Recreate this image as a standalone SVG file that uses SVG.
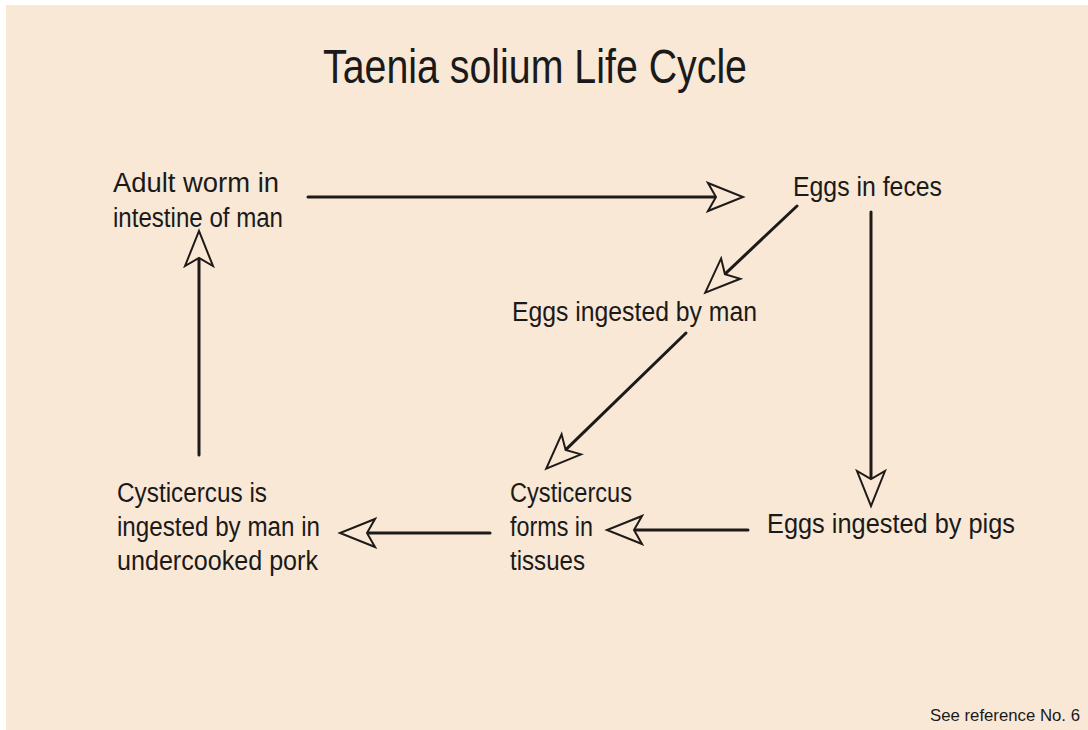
<svg xmlns="http://www.w3.org/2000/svg" width="1088" height="730" viewBox="0 0 1088 730">
<style>
.t{font-family:"Liberation Sans",Arial,sans-serif;fill:#1a1a1a}
.n{font-size:27px}
.c{fill:none;stroke:#1e1a18;stroke-width:3;stroke-linecap:round}
</style>
<defs>
<marker id="ah" viewBox="0 0 40 34" refX="10" refY="17" markerWidth="40" markerHeight="34" markerUnits="userSpaceOnUse" orient="auto">
<path d="M2,3 L37,17 L2,31 L10,17 Z" fill="#f9e8d5" stroke="#1e1a18" stroke-width="2" stroke-linejoin="miter"/>
</marker>
</defs>
<rect x="0" y="0" width="1088" height="730" fill="#ffffff"/>
<rect x="6" y="5" width="1082" height="725" fill="#f9e8d5"/>
<text class="t" x="323" y="83" font-size="48" textLength="424" lengthAdjust="spacingAndGlyphs">Taenia solium Life Cycle</text>
<g id="connectors">
<line class="c" x1="308" y1="197" x2="716" y2="197" marker-end="url(#ah)"/>
<line class="c" x1="797" y1="206" x2="724.9" y2="274.1" marker-end="url(#ah)"/>
<line class="c" x1="686" y1="333" x2="565.6" y2="449.9" marker-end="url(#ah)"/>
<line class="c" x1="871" y1="212" x2="871" y2="479" marker-end="url(#ah)"/>
<line class="c" x1="748" y1="530" x2="634" y2="530" marker-end="url(#ah)"/>
<line class="c" x1="490" y1="533" x2="367" y2="533" marker-end="url(#ah)"/>
<line class="c" x1="199" y1="455" x2="199" y2="258" marker-end="url(#ah)"/>
</g>
<g id="adult">
<text class="t n" x="113" y="192" textLength="166" lengthAdjust="spacingAndGlyphs">Adult worm in</text>
<text class="t n" x="113" y="227" textLength="170" lengthAdjust="spacingAndGlyphs">intestine of man</text>
</g>
<g id="eggs-feces">
<text class="t n" x="793" y="196" textLength="149" lengthAdjust="spacingAndGlyphs">Eggs in feces</text>
</g>
<g id="eggs-man">
<text class="t n" x="512" y="321" textLength="245" lengthAdjust="spacingAndGlyphs">Eggs ingested by man</text>
</g>
<g id="cyst-man">
<text class="t n" x="117" y="502" textLength="150" lengthAdjust="spacingAndGlyphs">Cysticercus is</text>
<text class="t n" x="117" y="536" textLength="203" lengthAdjust="spacingAndGlyphs">ingested by man in</text>
<text class="t n" x="117" y="570" textLength="201" lengthAdjust="spacingAndGlyphs">undercooked pork</text>
</g>
<g id="cyst-tissues">
<text class="t n" x="510" y="502" textLength="122" lengthAdjust="spacingAndGlyphs">Cysticercus</text>
<text class="t n" x="510" y="536" textLength="83" lengthAdjust="spacingAndGlyphs">forms in</text>
<text class="t n" x="510" y="570" textLength="75" lengthAdjust="spacingAndGlyphs">tissues</text>
</g>
<g id="eggs-pigs">
<text class="t n" x="767" y="533" textLength="248" lengthAdjust="spacingAndGlyphs">Eggs ingested by pigs</text>
</g>
<text class="t" x="930" y="721" font-size="17" textLength="150" lengthAdjust="spacingAndGlyphs">See reference No. 6</text>
</svg>
